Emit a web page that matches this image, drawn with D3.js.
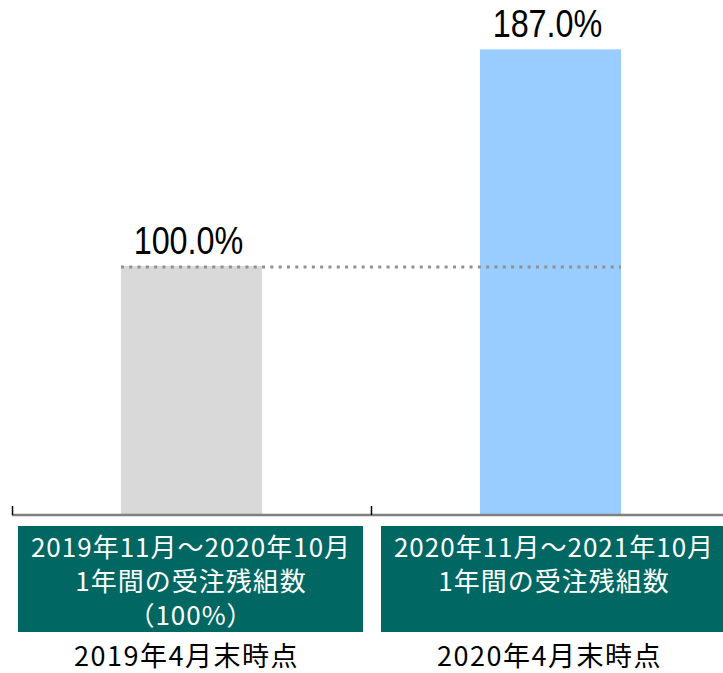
<!DOCTYPE html>
<html>
<head>
<meta charset="utf-8">
<script src="https://cdn.jsdelivr.net/npm/d3@7"></script>
<style>
  body { margin: 0; background: #fff; }
  svg { display: block; }
</style>
</head>
<body>
<div id="chart"></div>
<script>
(function(){

  var width = 723;
  var height = 673;

  // data
  var categories = ['2019年4月末時点', '2020年4月末時点'];
  var values = [100.0, 187.0];
  var valueLabels = ['100.0%', '187.0%'];
  var boxLines = [
    ['2019年11月～2020年10月', '1年間の受注残組数', '（100%）'],
    ['2020年11月～2021年10月', '1年間の受注残組数']
  ];
  var barColors = ['#d9d9d9', '#99ccff'];

  var baseY = 515;

  var x = d3.scaleBand()
            .domain(categories)
            .range([12, 730])
            .paddingInner(0.607)
            .paddingOuter(0.3035);

  var y = d3.scaleLinear()
            .domain([0, 200])
            .range([baseY, 17]);

  var svg = d3.select('#chart')
              .append('svg')
              .attr('width', width)
              .attr('height', height);

  // bars
  svg.selectAll('rect.bar')
     .data(values)
     .enter()
     .append('rect')
     .attr('class', 'bar')
     .attr('x', function(d, i) { return x(categories[i]); })
     .attr('y', function(d) { return y(d); })
     .attr('width', x.bandwidth())
     .attr('height', function(d) { return baseY - y(d); })
     .attr('fill', function(d, i) { return barColors[i]; });

  // dotted reference line at 100%
  svg.append('line')
     .attr('x1', x(categories[0]))
     .attr('x2', x(categories[1]) + x.bandwidth())
     .attr('y1', y(values[0]) + 1)
     .attr('y2', y(values[0]) + 1)
     .attr('stroke', '#909090')
     .attr('stroke-width', 3)
     .attr('stroke-dasharray', '3,5.3');

  // value labels (condensed like a narrow face)
  svg.selectAll('text.val')
     .data(values)
     .enter()
     .append('text')
     .attr('class', 'val')
     .text(function(d, i) { return valueLabels[i]; })
     .attr('transform', function(d, i) {
       var cx = x(categories[i]) + x.bandwidth() / 2 - 3;
       return 'translate(' + cx + ',' + (y(d) - 12) + ') scale(0.83,1)';
     })
     .attr('text-anchor', 'middle')
     .attr('fill', '#000')
     .attr('font-family', '"Liberation Sans", Arial, sans-serif')
     .attr('font-size', '39px');

  // axis line
  svg.append('line')
     .attr('x1', 12)
     .attr('x2', width)
     .attr('y1', baseY)
     .attr('y2', baseY)
     .attr('stroke', '#808080')
     .attr('stroke-width', 2.5);

  // ticks at band boundaries
  svg.selectAll('line.tick')
     .data(categories)
     .enter()
     .append('line')
     .attr('class', 'tick')
     .attr('x1', function(d, i) { return 12.5 + i * x.step(); })
     .attr('x2', function(d, i) { return 12.5 + i * x.step(); })
     .attr('y1', baseY - 9)
     .attr('y2', baseY)
     .attr('stroke', '#000')
     .attr('stroke-width', 1.5);

  // teal boxes
  var boxW = 345;
  function center(i) { return x(categories[i]) + x.bandwidth() / 2 + (i === 0 ? -1 : 3); }

  svg.selectAll('rect.box')
     .data(boxLines)
     .enter()
     .append('rect')
     .attr('class', 'box')
     .attr('x', function(d, i) { return center(i) - boxW / 2; })
     .attr('y', 526)
     .attr('width', boxW)
     .attr('height', 106)
     .attr('fill', '#006763');

  var font = '"Noto Sans CJK JP", sans-serif';

  boxLines.forEach(function(lines, i) {
    svg.selectAll('text.box' + i)
       .data(lines)
       .enter()
       .append('text')
       .attr('class', 'box' + i)
       .text(function(d) { return d; })
       .attr('x', center(i) + 0.5)
       .attr('y', function(d, j) { return 557 + j * 34; })
       .attr('text-anchor', 'middle')
       .attr('fill', '#fff')
       .attr('font-family', font)
       .attr('font-size', '26px')
       .attr('letter-spacing', '1px');
  });

  // category labels
  svg.selectAll('text.cat')
     .data(categories)
     .enter()
     .append('text')
     .attr('class', 'cat')
     .text(function(d) { return d; })
     .attr('x', function(d, i) { return center(i) - 4; })
     .attr('y', 666)
     .attr('text-anchor', 'middle')
     .attr('fill', '#000')
     .attr('font-family', font)
     .attr('font-size', '27px')
     .attr('letter-spacing', '1.5px');

})();
</script>
</body>
</html>
